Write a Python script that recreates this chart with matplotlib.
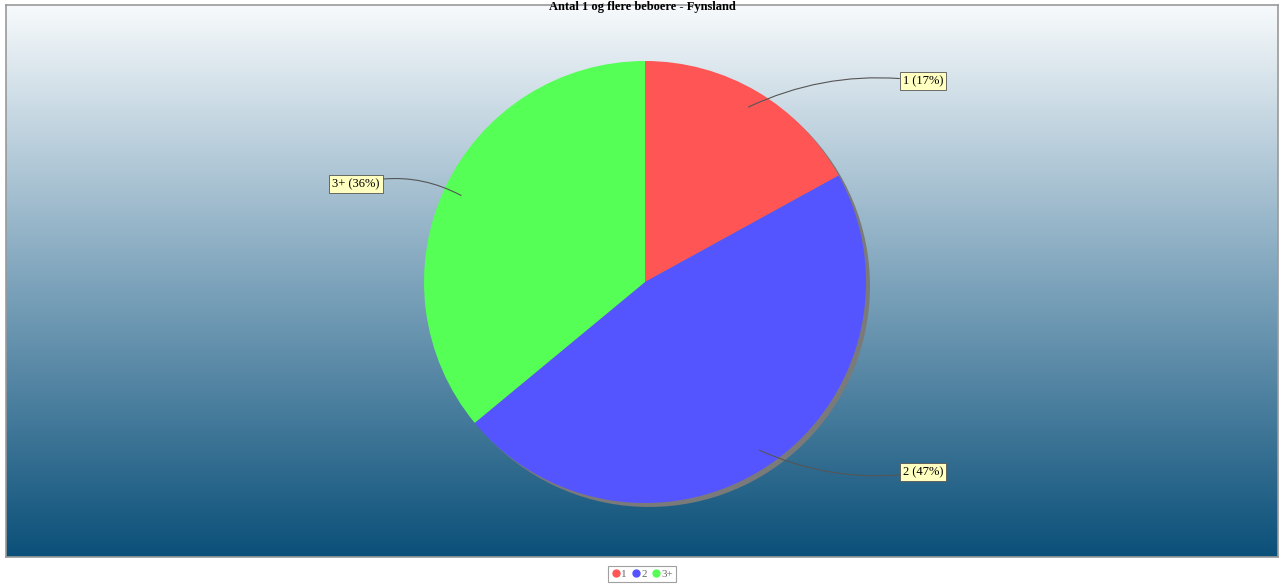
import numpy as np
import matplotlib.pyplot as plt
from matplotlib.colors import LinearSegmentedColormap
from matplotlib.lines import Line2D
from matplotlib.patches import Circle

# data
labels = ['1', '2', '3+']
values = [17, 47, 36]
colors = ['#ff5555', '#5555ff', '#55ff55']
title = 'Antal 1 og flere beboere - Fynsland'

W, H = 1284, 588
fig = plt.figure(figsize=(W / 100, H / 100), dpi=100)
fig.patch.set_facecolor('white')

# plot area with vertical gradient
bg = fig.add_axes([6 / W, (H - 557) / H, 1272 / W, 552 / H])
cmap = LinearSegmentedColormap.from_list('bg', ['#f7fafc', '#7ea4bc', '#0b5079'])
grad = np.linspace(0, 1, 256).reshape(-1, 1)
bg.imshow(grad, cmap=cmap, aspect='auto', extent=[0, 1, 0, 1], origin='upper')
bg.set_xticks([])
bg.set_yticks([])
for s in bg.spines.values():
    s.set_color('#999999')
    s.set_linewidth(1.2)

fig.text(0.5, 0.999, title, ha='center', va='top', fontsize=9,
         fontweight='bold', family='Liberation Serif')

# pie axes, center at (645, 282) px, radius 221 px
r_px = 221
half = 240
cx, cy = 645, 282
ax = fig.add_axes([(cx - half) / W, (H - cy - half) / H, 2 * half / W, 2 * half / H])

ax.add_patch(Circle((0.018, -0.018), 1.0, color='#7a7a7a', lw=0, zorder=0))
wedges, _ = ax.pie(values, colors=colors, startangle=90, counterclock=False,
                   radius=1.0, wedgeprops=dict(linewidth=0, zorder=1))
ax.set_xlim(-half / r_px, half / r_px)
ax.set_ylim(-half / r_px, half / r_px)
ax.set_aspect('equal')
ax.axis('off')

text_pos = [(1.258, 0.909), (1.258, -0.86), (-1.308, 0.443)]
rads = [0.15, -0.15, -0.2]
for w, lab, v, tp, rad in zip(wedges, labels, values, text_pos, rads):
    ang = np.deg2rad((w.theta1 + w.theta2) / 2)
    pt = (0.92 * np.cos(ang), 0.92 * np.sin(ang))
    ax.annotate(f'{lab} ({v}%)', xy=pt, xytext=tp, ha='center', va='center',
                fontsize=9, family='Liberation Serif', annotation_clip=False,
                bbox=dict(boxstyle='square,pad=0.25', fc='#ffffc0', ec='#555555', lw=0.6),
                arrowprops=dict(arrowstyle='-', color='#555555', lw=0.8,
                                connectionstyle=f'arc3,rad={rad}', shrinkA=0, shrinkB=0))

handles = [Line2D([], [], marker='o', linestyle='none', markersize=5,
                  markerfacecolor=c, markeredgecolor=c) for c in colors]
leg = fig.legend(handles, labels, loc='center', bbox_to_anchor=(0.5, 1 - 574 / H),
                 ncol=3, frameon=True, fancybox=False,
                 handletextpad=0.1, columnspacing=0.4, borderpad=0.3,
                 handlelength=0.8, prop={'family': 'Liberation Serif', 'size': 8})
leg.get_frame().set_edgecolor('#888888')
leg.get_frame().set_linewidth(0.8)
for t in leg.get_texts():
    t.set_color('#666666')

fig.savefig('out.png', dpi=100)
